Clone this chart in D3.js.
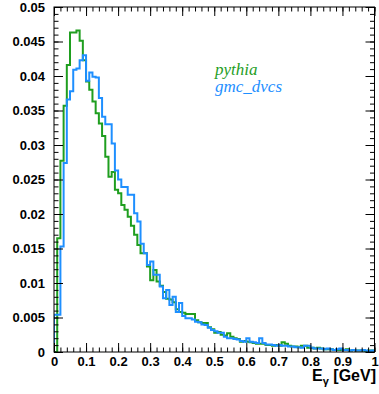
<!DOCTYPE html>
<html>
<head>
<meta charset="utf-8">
<script src="https://cdn.jsdelivr.net/npm/d3@7"></script>
<style>
  body { margin: 0; background: #fff; }
  svg { display: block; }
  .tick text { font-family: "Liberation Sans", Arial, sans-serif; font-weight: bold; font-size: 13px; fill: #000; }
</style>
</head>
<body>
<div id="chart"></div>
<script>
// histogram: 100 bins of 0.01 GeV between 0 and 1
const binWidth = 0.01;

const pythia = [
  0, 0.0165, 0.0277, 0.0357, 0.0416, 0.0463, 0.0463, 0.0466, 0.0451, 0.0423,
  0.0392, 0.0380, 0.0363, 0.0346, 0.0331, 0.0313, 0.0283, 0.0254, 0.0261, 0.0235,
  0.0230, 0.0213, 0.0206, 0.0196, 0.0183, 0.0170, 0.0155, 0.0143, 0.0143, 0.0124,
  0.0104, 0.0119, 0.0102, 0.0096, 0.0087, 0.0077, 0.0076, 0.0072, 0.0062, 0.0058,
  0.0057, 0.0055, 0.0055, 0.0055, 0.0046, 0.0043, 0.0042, 0.0042, 0.0036, 0.0033,
  0.0028, 0.0029, 0.0025, 0.0024, 0.0027, 0.0022, 0.0020, 0.0019, 0.0015, 0.0016,
  0.0015, 0.0014, 0.0013, 0.0012, 0.0012, 0.0012, 0.0010, 0.0010, 0.0009, 0.0010,
  0.0009, 0.0014, 0.0012, 0.0009, 0.0008, 0.0008, 0.0007, 0.0009, 0.0009, 0.0006,
  0.0006, 0.0005, 0.0006, 0.0005, 0.0004, 0.0004, 0.0004, 0.0003, 0.0003, 0.0003,
  0.0003, 0.0004, 0.0002, 0.0003, 0.0002, 0.0002, 0.0002, 0.0001, 0.0002, 0.0002
];

const gmcDvcs = [
  0.0054, 0.0054, 0.0153, 0.0274, 0.0366, 0.0378, 0.0409, 0.0411, 0.0423, 0.0430,
  0.0393, 0.0405, 0.0399, 0.0398, 0.0368, 0.0341, 0.0330, 0.0330, 0.0302, 0.0263,
  0.0250, 0.0239, 0.0239, 0.0228, 0.0228, 0.0201, 0.0189, 0.0157, 0.0143, 0.0126,
  0.0131, 0.0112, 0.0112, 0.0095, 0.0078, 0.0090, 0.0068, 0.0080, 0.0058, 0.0071,
  0.0052, 0.0049, 0.0049, 0.0047, 0.0044, 0.0043, 0.0040, 0.0039, 0.0035, 0.0032,
  0.0030, 0.0028, 0.0028, 0.0022, 0.0020, 0.0020, 0.0019, 0.0018, 0.0016, 0.0015,
  0.0020, 0.0015, 0.0014, 0.0013, 0.0020, 0.0013, 0.0011, 0.0011, 0.0010, 0.0009,
  0.0010, 0.0009, 0.0009, 0.0008, 0.0008, 0.0007, 0.0007, 0.0006, 0.0009, 0.0009,
  0.0006, 0.0005, 0.0005, 0.0005, 0.0004, 0.0005, 0.0004, 0.0003, 0.0004, 0.0005,
  0.0003, 0.0003, 0.0002, 0.0003, 0.0002, 0.0002, 0.0003, 0.0002, 0.0001, 0.0002
];

const xTicks = [0, 0.1, 0.2, 0.3, 0.4, 0.5, 0.6, 0.7, 0.8, 0.9, 1];
const xTickLabels = ["0", "0.1", "0.2", "0.3", "0.4", "0.5", "0.6", "0.7", "0.8", "0.9", "1"];
const yTicks = [0, 0.005, 0.01, 0.015, 0.02, 0.025, 0.03, 0.035, 0.04, 0.045, 0.05];
const yTickLabels = ["0", "0.005", "0.01", "0.015", "0.02", "0.025", "0.03", "0.035", "0.04", "0.045", "0.05"];

const seriesNames = ["pythia", "gmc_dvcs"];
const seriesColors = ["#1f9e1f", "#1e8fff"];

const width = 379, height = 394;
const plotLeft = 54, plotRight = 374.5, plotTop = 7, plotBottom = 352;

const svg = d3.select("#chart").append("svg")
  .attr("width", width)
  .attr("height", height);

const x = d3.scaleLinear().domain([0, 1]).range([plotLeft, plotRight]);
const y = d3.scaleLinear().domain([0, 0.05]).range([plotBottom, plotTop]);

svg.append("clipPath").attr("id", "plot")
  .append("rect")
  .attr("x", plotLeft).attr("y", plotTop)
  .attr("width", plotRight - plotLeft).attr("height", plotBottom - plotTop);

// step outline of a histogram
function stepPoints(values) {
  const pts = [[0, 0]];
  values.forEach((v, i) => pts.push([i * binWidth, v]));
  pts.push([values.length * binWidth, values[values.length - 1]]);
  pts.push([values.length * binWidth, 0]);
  return pts;
}

const line = d3.line()
  .x(d => x(d[0]))
  .y(d => y(d[1]))
  .curve(d3.curveStepAfter);

[pythia, gmcDvcs].forEach((vals, k) => {
  svg.append("path")
    .attr("clip-path", "url(#plot)")
    .attr("d", line(stepPoints(vals)))
    .attr("fill", "none")
    .attr("stroke", seriesColors[k])
    .attr("stroke-width", 2);
});

const xMinor = d3.range(0, 51).map(i => i * 0.02);
const yMinor = d3.range(0, 51).map(i => i * 0.001);

function addAxis(axis, tx, ty) {
  const g = svg.append("g")
    .attr("transform", `translate(${tx},${ty})`)
    .call(axis);
  g.select(".domain").remove();
  g.selectAll("line").attr("stroke", "#000");
  return g;
}

// bottom
addAxis(d3.axisBottom(x).tickValues(xMinor).tickSize(-4.5).tickFormat(""), 0, plotBottom);
addAxis(d3.axisBottom(x).tickValues(xTicks).tickSize(-9).tickPadding(5)
  .tickFormat((d, i) => xTickLabels[i]), 0, plotBottom);
// top
addAxis(d3.axisTop(x).tickValues(xMinor).tickSize(-4.5).tickFormat(""), 0, plotTop);
addAxis(d3.axisTop(x).tickValues(xTicks).tickSize(-9).tickFormat(""), 0, plotTop);
// left
addAxis(d3.axisLeft(y).tickValues(yMinor).tickSize(-4.5).tickFormat(""), plotLeft, 0);
addAxis(d3.axisLeft(y).tickValues(yTicks).tickSize(-9).tickPadding(9)
  .tickFormat((d, i) => yTickLabels[i]), plotLeft, 0);
// right
addAxis(d3.axisRight(y).tickValues(yMinor).tickSize(-4.5).tickFormat(""), plotRight, 0);
addAxis(d3.axisRight(y).tickValues(yTicks).tickSize(-9).tickFormat(""), plotRight, 0);

// frame
svg.append("rect")
  .attr("x", plotLeft).attr("y", plotTop)
  .attr("width", plotRight - plotLeft).attr("height", plotBottom - plotTop)
  .attr("fill", "none")
  .attr("stroke", "#000")
  .attr("stroke-width", 1);

// legend
seriesNames.forEach((name, k) => {
  svg.append("text")
    .attr("x", 215)
    .attr("y", 75 + k * 17)
    .attr("fill", seriesColors[k])
    .style("font-family", "'Liberation Serif', 'Times New Roman', serif")
    .style("font-style", "italic")
    .style("font-size", "17px")
    .text(name);
});

// x axis title
const title = svg.append("text")
  .attr("x", 376)
  .attr("y", 381)
  .attr("text-anchor", "end")
  .style("font-family", "'Liberation Sans', Arial, sans-serif")
  .style("font-weight", "bold")
  .style("font-size", "16px");
title.append("tspan").text("E");
title.append("tspan").attr("dy", 4).style("font-size", "11px").text("γ");
title.append("tspan").attr("dy", -4).text(" [GeV]");
</script>
</body>
</html>
